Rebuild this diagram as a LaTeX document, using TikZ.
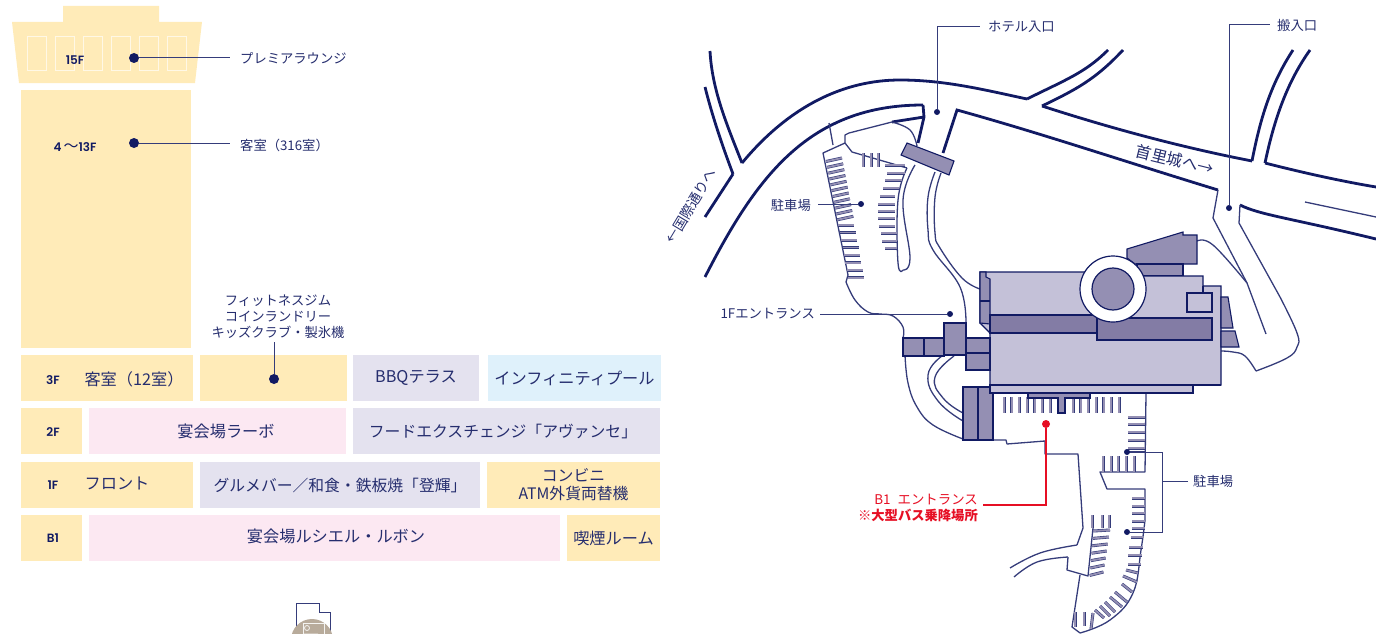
\documentclass[tikz,border=0pt]{standalone}
\usepackage{fontspec}
\setmainfont{Noto Sans CJK JP}
\newfontfamily\floorfont{Poppins SemiBold}
\usetikzlibrary{positioning}
\definecolor{navy}{HTML}{111A63}
\definecolor{inktext}{HTML}{252D6E}
\definecolor{creamc}{HTML}{FFEBB8}
\definecolor{pinkc}{HTML}{FCE8F2}
\definecolor{greyc}{HTML}{E4E2EF}
\definecolor{bluec}{HTML}{DFF1FB}
\definecolor{lightc}{HTML}{C4C1D8}
\definecolor{midc}{HTML}{948FB3}
\definecolor{darkc}{HTML}{837CA5}
\definecolor{redc}{HTML}{E60F24}
\definecolor{tanc}{HTML}{B8AB9B}
\tikzset{
    room/.style={minimum height=46pt, inner sep=0pt, outer sep=0pt, text=inktext, align=center,
        font=\fontsize{16.2}{18}\selectfont},
    roomtight/.style={room, font=\fontsize{15.8}{18}\selectfont},
    floortag/.style={text=navy, inner sep=0pt, font=\fontsize{12}{14}\floorfont},
    maptag/.style={text=inktext, inner ysep=0pt, align=center, font=\fontsize{13.3}{16}\selectfont},
    dotbig/.style={circle, fill=navy, inner sep=0pt, outer sep=0pt, minimum size=10pt},
    dotsmall/.style={circle, fill=navy, inner sep=0pt, outer sep=0pt, minimum size=6pt},
    leader/.style={draw=navy!85!white, line width=1pt},
    road/.style={draw=navy, line width=2.8pt, line join=miter},
    lane/.style={draw=navy!85!white, line width=1.3pt, line join=round},
    wing/.style={draw=navy, line width=1.1pt, fill=midc, line join=miter},
    wingpale/.style={draw=navy, line width=1.2pt, fill=lightc},
    wingdark/.style={draw=navy, line width=1.2pt, fill=darkc},
    stall/.style={draw=navy!85!white, line width=.6pt, double=midc, double distance=1.8pt}
}
\begin{document}
\begin{tikzpicture}[x=1pt, y=-1pt]
    \useasboundingbox (0,0) rectangle (1376,634);
    % floor guide
    \fill[creamc] (63,6) -- (159,6) -- (159,22) -- (202,22) -- (195,83) -- (19,83) -- (12,22) -- (63,22) -- cycle;
    \foreach \x in {27,55,83,111,139,167}
        \draw[white!65!creamc, line width=.9pt] (\x,36) rectangle ++(19,34);
    \fill[creamc] (21,90) rectangle (191,348);

    \node [room, fill=creamc, minimum width=172pt, anchor=north west] (f3a) at (21,355) {};
    \node [room, fill=creamc, minimum width=147pt, right=7pt of f3a] (f3b) {};
    \node [room, fill=greyc, minimum width=126pt, right=6pt of f3b] (f3c) {BBQテラス};
    \node [room, fill=bluec, minimum width=173pt, right=9pt of f3c] (f3d) {インフィニティプール};

    \node [room, fill=creamc, minimum width=61pt, anchor=north west] (f2a) at (21,408) {};
    \node [room, fill=pinkc, minimum width=257pt, right=7pt of f2a] (f2b) {};
    \node [room, fill=greyc, minimum width=307pt, right=7pt of f2b] (f2c) {};

    \node [room, fill=creamc, minimum width=172pt, anchor=north west] (f1a) at (21,462) {};
    \node [roomtight, fill=greyc, minimum width=280pt, right=7pt of f1a] (f1b) {グルメバー／和食・鉄板焼「登輝」};
    \node [roomtight, fill=creamc, minimum width=173pt, right=7pt of f1b] (f1c) {コンビニ\\ATM外貨両替機};

    \node [room, fill=creamc, minimum width=61pt, anchor=north west] (b1a) at (21,515) {};
    \node [room, fill=pinkc, minimum width=471pt, right=7pt of b1a] (b1b) {};
    \node [room, fill=creamc, minimum width=93pt, right=7pt of b1b] (b1c) {喫煙ルーム};

    \node [floortag] (tag15) at (75,60) {15F};
    \node [floortag] (tag13) at (75,147) {4\,{\rmfamily\fontsize{15}{14}\selectfont 〜}13F};
    \node [floortag] (tag3) at (53,380) {3F};
    \node [floortag] (tag2) at (53,432) {2F};
    \node [floortag] (tag1) at (53,485) {1F};
    \node [floortag] (tagb) at (53,538) {B1};
    \node [room, minimum height=0pt] (txtguest) at (134,379) {客室（12室）};
    \node [room, minimum height=0pt] (txtfront) at (117,483) {フロント};
    \node [room, minimum height=0pt] (txtlabo) at (226,431) {宴会場ラーボ};
    \node [roomtight, minimum height=0pt] (txtfood) at (503,431) {フードエクスチェンジ「アヴァンセ」};
    \node [room, minimum height=0pt] (txtciel) at (336,536) {宴会場ルシエル・ルボン};

    \node [dotbig] (dotlounge) at (134,58) {};
    \node [dotbig] (dotrooms) at (134,143) {};
    \node [dotbig] (dotfit) at (274,379) {};
    \node [maptag, anchor=west, inner xsep=10pt] (lbllounge) at (230,58) {プレミアラウンジ};
    \node [maptag, anchor=west, inner xsep=10pt] (lblrooms) at (230,145) {客室（316室）};
    \node [maptag, anchor=south, inner ysep=3pt] (lblfit) at (278,342) {フィットネスジム\\コインランドリー\\キッズクラブ・製氷機};
    \draw[leader] (dotlounge) -- (lbllounge.west |- dotlounge);
    \draw[leader] (dotrooms) -- (lblrooms.west |- dotrooms);
    \draw[leader] (dotfit) -- (dotfit |- lblfit.south);

    % small key map at the foot
    \draw[navy!85!white, line width=1pt] (296,634) -- (296,603) -- (319,603) -- (319,612) -- (330,612) -- (330,634);
    \begin{scope}
        \clip (280,600) rectangle (345,634);
        \fill[tanc] (312,640) circle (21);
        \draw[white!85!tanc, line width=1pt] (303,623) rectangle (324,640);
        \draw[white!85!tanc, line width=.8pt] (307,628) circle (2.5) (304,634) -- (318,634);
    \end{scope}

    % roads
    \draw[road] (710,51) .. controls (712,90) and (727,125) .. (742,163);
    \draw[road] (742,163) .. controls (790,105) and (845,80) .. (900,80) .. controls (945,80) and (985,90) .. (1027,99);
    \draw[road] (1027,99) .. controls (1065,80) and (1085,73) .. (1108,50);
    \draw[road] (705,87) .. controls (712,115) and (722,145) .. (733,174);
    \draw[road] (705,217) -- (733,174);
    \draw[road] (705,277) .. controls (757,175) and (810,105) .. (923,105);
    \draw[road] (923,105) -- (924,117) -- (918,143);
    \draw[road] (924,117) -- (892,122);
    \draw[road] (943,153) -- (957,110) .. controls (1040,133) and (1120,160) .. (1218,190);
    \draw[road] (1042,106) .. controls (1075,90) and (1095,80) .. (1123,50);
    \draw[road] (1042,106) .. controls (1110,128) and (1180,147) .. (1252,161);
    \draw[road] (1252,161) .. controls (1260,120) and (1270,85) .. (1293,50);
    \draw[road] (1265,163) .. controls (1273,125) and (1285,85) .. (1310,50);
    \draw[road] (1265,163) .. controls (1300,172) and (1340,181) .. (1376,187);
    \draw[road] (1240,205) .. controls (1260,215) and (1290,218) .. (1376,239);
    \draw[lane] (1305,202) -- (1376,217);

    % driveways, thin lines
    \draw[lane] (892,122) -- (849,133) -- (845,135) -- (845,143) -- (852,152) -- (907,168);
    \draw[lane] plot [smooth, tension=.7] coordinates {(892,122) (910,130) (917,146)};
    \draw[lane] plot [smooth, tension=.7] coordinates {(907,168) (898,200) (898,263) (903,270)};
    \draw[lane] plot [smooth, tension=.7] coordinates {(903,270) (910,258) (903,200) (915,165)};
    \draw[lane] (829,123) -- (833,145);
    \draw[lane] (845,143) -- (823,153) -- (848,275) -- (846,282);
    \draw[lane] plot [smooth, tension=.7] coordinates {(846,282) (855,300) (868,312) (880,314) (893,316) (903,327) (903,338)};
    \draw[lane] plot [smooth, tension=.7] coordinates {(905,355) (908,383) (917,407) (933,425) (963,439)};
    \draw[lane] plot [smooth, tension=.7] coordinates {(935,172) (928,197) (928,230) (933,250) (960,287) (966,323)};
    \draw[lane] plot [smooth, tension=.7] coordinates {(941,173) (935,197) (935,233) (940,248) (962,278) (980,289)};
    \draw[lane] plot [smooth, tension=.8] coordinates {(942,356) (928,375) (938,401) (963,421)};
    \draw[lane] plot [smooth, tension=.8] coordinates {(954,356) (935,377) (943,398) (963,413)};
    \draw[lane] (1218,190) -- (1213,218) -- (1247,283) -- (1266,334);
    \draw[lane] (1240,205) -- (1239,223) -- (1280,297);
    \draw[lane] plot [smooth, tension=.7] coordinates {(1280,297) (1297,333) (1297,347) (1287,358) (1256,371)};
    \draw[lane] plot [smooth, tension=.7] coordinates {(1256,371) (1245,356) (1233,352) (1221,351)};
    \draw[lane] plot [smooth, tension=.7] coordinates {(1197,241) (1213,245) (1247,283)};
    \draw[lane] (993,440) -- (1006,440) -- (1007,444) -- (1045,441) -- (1045,454) -- (1078,454) -- (1083,528) -- (1077,545);
    \draw[lane] plot [smooth, tension=.7] coordinates {(1077,545) (1040,553) (1010,568)};
    \draw[lane] plot [smooth, tension=.7] coordinates {(1014,577) (1037,562) (1068,557)};
    \draw[lane] (1068,557) -- (1067,570) -- (1088,576) -- (1093,528);
    \draw[lane] (1080,575) -- (1072,627) -- (1080,633);
    \draw[lane] plot [smooth, tension=.7] coordinates {(1080,633) (1110,620) (1133,593) (1141,550) (1145,520)};
    \draw[lane] (1145,520) -- (1145,489) -- (1107,489) -- (1100,472) -- (1145,472) -- (1146,393);
    \draw[lane] (1127,452) -- (1145,452);

    % parking bays
    \foreach \x in {863,871,878} \draw[stall] (\x,153) -- (\x,167);
    \foreach \a/\b/\y in {885/905/165,887/905/173,885/902/180,883/899/188,880/895/196,878/895/204,878/895/211,878/895/218,879/895/226,881/897/233,882/897/241,885/897/248}
        \draw[stall] (\a,\y) -- (\b,\y);
    \foreach \i in {0,...,10}
        \draw[stall] ({826+1.13*\i},{161.5+5.83*\i}) -- ({842+1.13*\i},{158+5.83*\i});
    \foreach \i in {0,...,7}
        \draw[stall] ({838.3+1.43*\i},{225+7.52*\i}) -- ({854.3+1.43*\i},{225+7.52*\i});
    \foreach \x in {1004,1011.7,1019.3,1027,1034.7,1042.3,1050,1073,1080.7,1088.3,1096,1103.7,1111.3,1119}
        \draw[stall] (\x,397) -- (\x,413);
    \foreach \y in {417,424,432,440,448} \draw[stall] (1128,\y) -- (1145,\y);
    \foreach \x in {1103,1111,1118,1126,1134} \draw[stall] (\x,456) -- (\x,472);
    \foreach \a/\b/\y in {1132/1145/498,1132/1145/506,1132/1145/513,1132/1145/521,1132/1145/528,1131/1143/537,1129/1143/547,1128/1142/555,1128/1141/564}
        \draw[stall] (\a,\y) -- (\b,\y);
    \draw[stall] (1126,570) -- (1138,573);
    \draw[stall] (1123,576) -- (1137,582);
    \draw[stall] (1122,584) -- (1132,592);
    \draw[stall] (1115,592) -- (1127,602);
    \draw[stall] (1110,597) -- (1122,607);
    \draw[stall] (1105,602) -- (1115,612);
    \draw[stall] (1100,606) -- (1110,616);
    \draw[stall] (1095,610) -- (1104,618);
    \draw[stall] (1075,612) -- (1075,627);
    \draw[stall] (1084,612) -- (1084,626);
    \draw[stall] (1093,613) -- (1091,629);
    \foreach \x in {1092,1102,1109} \draw[stall] (\x,515) -- (\x,528);
    \foreach \i in {0,...,6}
        \draw[stall] ({1093.3-.6*\i},{531+7.4*\i}) -- ({1110-1.1*\i},{530+7*\i});

    % hotel building
    \draw[wing] (907,143) -- (954,161) -- (949,175) -- (901,155) -- cycle;
    \draw[wing] (1127,249) -- (1183,232) -- (1183,235) -- (1197,235) -- (1197,264) -- (1135,264) -- (1127,258) -- cycle;
    \draw[wing] (1137,264) rectangle (1183,276);
    \draw[wingpale] (986,272) -- (1100,272) -- (1100,276) -- (1203,276) -- (1203,286) -- (1221,286) -- (1221,385) -- (990,385) -- (990,333) -- (980,323) -- (980,272) -- cycle;
    \draw[wing] (1221,297) -- (1228,297) -- (1233,328) -- (1221,328) -- cycle;
    \draw[wing] (1221,331) -- (1235,331) -- (1239,347) -- (1221,347) -- cycle;
    \draw[wing] (980,272) -- (986,272) -- (986,277) -- (990,279) -- (990,324) -- (980,323) -- cycle;
    \draw[wing] (980,301) -- (990,301);
    \draw[wingdark] (990,315) rectangle (1097,333);
    \draw[wingdark] (1097,318) rectangle (1212,340);
    \draw[wingpale] (1187,293) rectangle (1212,312);
    \draw[wing] (1203,286) -- (1203,293);
    \draw[navy, line width=1.2pt, fill=white] (1113,289) circle (33);
    \draw[navy, line width=1.2pt, fill=midc] (1113,289) circle (21);
    \draw[wingpale] (990,385) rectangle (1193,393);
    \draw[navy, line width=1.8pt] (990,385) -- (1221,385);
    \draw[wing] (1028,393) -- (1090,393) -- (1090,398) -- (1065,398) -- (1065,413) -- (1058,413) -- (1058,398) -- (1028,398) -- cycle;
    \draw[wing] (903,338) rectangle (924,356);
    \draw[wing] (924,338) rectangle (944,356);
    \draw[wing] (944,323) rectangle (966,355);
    \draw[wing] (966,338) rectangle (990,353);
    \draw[wing] (966,353) rectangle (990,370);
    \draw[wing] (963,387) rectangle (978,440);
    \draw[wing] (978,387) -- (990,387) -- (990,393) -- (993,393) -- (993,440) -- (978,440) -- cycle;

    % map labels
    \node [maptag, anchor=west, inner xsep=8pt] (lblhotel) at (980,27) {ホテル入口};
    \node [dotsmall] (dothotel) at (937,112) {};
    \draw[leader] (dothotel) |- (lblhotel.west);
    \node [maptag, anchor=west, inner xsep=7pt] (lblcargo) at (1270,25) {搬入口};
    \node [dotsmall] (dotcargo) at (1229,208) {};
    \draw[leader] (dotcargo) |- (lblcargo.west);
    \node [maptag, anchor=east, inner xsep=7pt] (lblparka) at (818,205) {駐車場};
    \node [dotsmall] (dotparka) at (861,204) {};
    \draw[leader] (lblparka.east |- dotparka) -- (dotparka);
    \node [maptag, anchor=east, inner xsep=5pt] (lblentr) at (820,314) {1Fエントランス};
    \node [dotsmall] (dotentr) at (950,314) {};
    \draw[leader] (lblentr.east) -- (dotentr);
    \node [maptag, anchor=west, inner xsep=5pt] (lblparkb) at (1188,481) {駐車場};
    \node [dotsmall] (dotparkb) at (1127,452) {};
    \node [dotsmall] (dotparkc) at (1127,532) {};
    \coordinate (brkmid) at (1162,481);
    \draw[leader] (dotparkb) -| (brkmid) |- (dotparkc);
    \draw[leader] (lblparkb.west) -- (brkmid);
    \node [circle, fill=redc, inner sep=0pt, minimum size=8pt] (dotbus) at (1046,424) {};
    \node [anchor=east, text=redc, inner xsep=5pt, inner ysep=0pt, align=right, font=\fontsize{13.4}{16}\selectfont] (lblbus) at (983,508) {B1\hspace{4pt} エントランス\\{\fontsize{13.3}{16}\selectfont\bfseries ※大型バス乗降場所}};
    \coordinate (buselbow) at (1046,505);
    \draw[redc, line width=1.8pt] (dotbus) -- (buselbow) -- (983,505);

    \node [text=inktext, inner sep=0pt, rotate=59, font=\fontsize{14}{16}\selectfont] (lblwest) at (691,206) {←国際通りへ};
    \node [text=inktext, inner sep=0pt, rotate=-14, font=\fontsize{16}{18}\selectfont] (lbleast) at (1175,160) {首里城へ→};
\end{tikzpicture}
\end{document}
